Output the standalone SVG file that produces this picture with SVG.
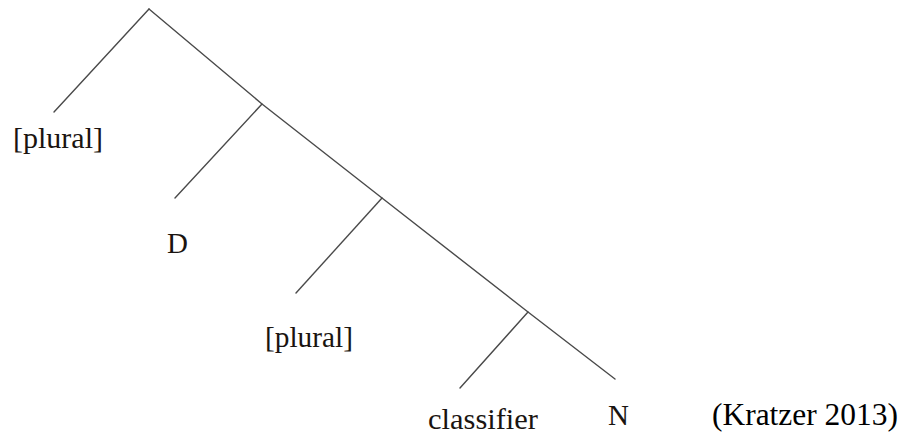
<svg xmlns="http://www.w3.org/2000/svg" width="902" height="437" viewBox="0 0 902 437">
<style>
.e{stroke:#4a4a4a;stroke-width:1.4;fill:none;stroke-linecap:round}
.t{font-family:"Liberation Serif","Times New Roman",serif;font-size:29px;fill:#1a1410}
.c{font-family:"Liberation Serif","Times New Roman",serif;font-size:31px;fill:#000}
</style>
<rect width="902" height="437" fill="#fff"/>
<g id="connectors">
<polyline class="e" points="149,9 262,104 382,198 528,312 615,379"/>
<line class="e" x1="149" y1="9" x2="54" y2="112"/>
<line class="e" x1="262" y1="104" x2="175" y2="198"/>
<line class="e" x1="382" y1="198" x2="296" y2="293"/>
<line class="e" x1="528" y1="312" x2="460" y2="388"/>
</g>
<g id="n_plural1"><text class="t" x="13" y="148" textLength="90" lengthAdjust="spacingAndGlyphs">[plural]</text></g>
<g id="n_D"><text class="t" x="167" y="253">D</text></g>
<g id="n_plural2"><text class="t" x="265" y="347" textLength="88" lengthAdjust="spacingAndGlyphs">[plural]</text></g>
<g id="n_classifier"><text class="t" x="428" y="429" textLength="110" lengthAdjust="spacingAndGlyphs">classifier</text></g>
<g id="n_N"><text class="t" x="608" y="425">N</text></g>
<g id="caption"><text class="c" x="712" y="425" textLength="186" lengthAdjust="spacingAndGlyphs">(Kratzer 2013)</text></g>
</svg>
